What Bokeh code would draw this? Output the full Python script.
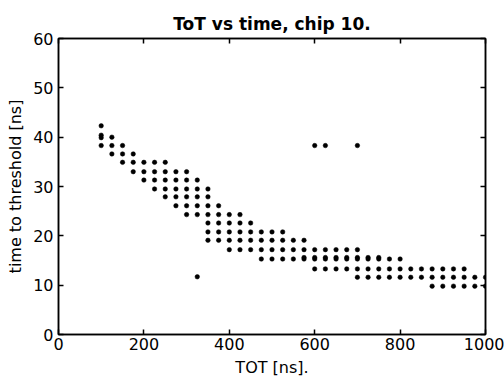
from bokeh.plotting import figure
from bokeh.models import ColumnDataSource, FixedTicker, LinearAxis, Range1d
from bokeh.embed import file_html
from bokeh.resources import INLINE

# Data (TOT in ns, time to threshold in ns)
tot_ns = [
    100,
    100,
    100, 125,
    100, 125, 150,
    125, 150, 175,
    150, 175, 200, 225, 250,
    175, 200, 225, 250, 275, 300,
    200, 225, 250, 275, 300, 325,
    225, 250, 275, 300, 325, 350,
    250, 275, 300, 325, 350,
    275, 300, 325, 350, 375,
    300, 325, 350, 375, 400, 425,
    350, 375, 400, 425, 450,
    350, 375, 400, 425, 450, 475, 500, 525,
    350, 375, 400, 425, 450, 475, 500, 525, 550, 575,
    400, 425, 450, 475, 500, 525, 550, 575, 600, 625, 650, 675, 700,
    475, 500, 525, 550, 575, 600, 625, 650, 675, 700, 725, 750, 775, 800,
    575, 600, 625, 650, 675, 700, 725, 750,
    600, 625, 650, 675, 700, 725, 750, 775, 800, 825, 850, 875, 900, 925, 950,
    700, 725, 750, 775, 800, 825, 850, 875, 900, 925, 950, 975, 1000,
    875, 900, 925, 950, 975, 1000,
    325, 600, 625, 700,
]
ttt_ns = [
    42.3,
    40.4,
    39.9, 40.0,
    38.3, 38.3, 38.3,
    36.6, 36.6, 36.6,
    34.9, 34.9, 34.9, 34.9, 34.9,
    33.0, 33.0, 33.0, 33.0, 33.0, 33.0,
    31.3, 31.3, 31.3, 31.3, 31.3, 31.3,
    29.5, 29.5, 29.5, 29.5, 29.5, 29.5,
    27.9, 27.9, 27.9, 27.9, 27.9,
    26.1, 26.1, 26.1, 26.1, 26.1,
    24.3, 24.3, 24.3, 24.3, 24.3, 24.3,
    22.6, 22.6, 22.6, 22.6, 22.6,
    20.8, 20.8, 20.8, 20.8, 20.8, 20.8, 20.8, 20.8,
    19.1, 19.1, 19.1, 19.1, 19.1, 19.1, 19.1, 19.1, 19.1, 19.1,
    17.2, 17.2, 17.2, 17.2, 17.2, 17.2, 17.2, 17.2, 17.2, 17.2, 17.2, 17.2, 17.2,
    15.3, 15.3, 15.3, 15.3, 15.3, 15.3, 15.3, 15.3, 15.3, 15.3, 15.3, 15.3, 15.3, 15.3,
    15.6, 15.6, 15.6, 15.6, 15.6, 15.6, 15.6, 15.6,
    13.3, 13.3, 13.3, 13.3, 13.3, 13.3, 13.3, 13.3, 13.3, 13.3, 13.3, 13.3, 13.3, 13.3, 13.3,
    11.6, 11.6, 11.6, 11.6, 11.6, 11.6, 11.6, 11.6, 11.6, 11.6, 11.6, 11.6, 11.6,
    9.8, 9.8, 9.8, 9.8, 9.8, 9.8,
    11.7, 38.3, 38.3, 38.3,
]

x_ticks = [0, 200, 400, 600, 800, 1000]
y_ticks = [0, 10, 20, 30, 40, 50, 60]

FONT = "DejaVu Sans"

p = figure(
    width=504, height=383,
    output_backend="svg", toolbar_location=None,
    x_range=Range1d(0, 1000), y_range=Range1d(0, 60),
    min_border_left=58, min_border_right=19,
    min_border_top=38, min_border_bottom=49,
    background_fill_color="white", border_fill_color="white",
    x_axis_label="TOT [ns].", y_axis_label="time to threshold [ns]",
)
p.title.text = "ToT vs time, chip 10."
p.title.align = "center"
p.title.text_font = FONT
p.title.text_font_size = "17px"
p.title.text_font_style = "bold"
p.title.text_color = "black"
p.title.offset = 0

p.grid.visible = False
p.outline_line_color = "black"
p.outline_line_width = 1.5

for ax, ticks in ((p.xaxis[0], x_ticks), (p.yaxis[0], y_ticks)):
    ax.ticker = FixedTicker(ticks=ticks)
    ax.major_tick_in = 5
    ax.major_tick_out = 0
    ax.minor_tick_line_color = None
    ax.axis_line_width = 1.5
    ax.major_tick_line_width = 1.5
    ax.major_label_text_font = FONT
    ax.major_label_text_font_size = "16px"
    ax.major_label_text_color = "black"
    ax.axis_label_text_font = FONT
    ax.axis_label_text_font_size = "16px"
    ax.axis_label_text_font_style = "normal"
    ax.axis_label_text_color = "black"

p.xaxis[0].major_label_standoff = 3
p.xaxis[0].axis_label_standoff = 5
p.yaxis[0].major_label_standoff = 5
p.yaxis[0].axis_label_standoff = 5

for loc, ticks in (("above", x_ticks), ("right", y_ticks)):
    ax = LinearAxis(ticker=FixedTicker(ticks=ticks))
    ax.major_tick_in = 5
    ax.major_tick_out = 0
    ax.minor_tick_line_color = None
    ax.axis_line_width = 1.5
    ax.major_tick_line_width = 1.5
    ax.major_label_overrides = {t: "" for t in ticks}
    ax.major_label_standoff = 0
    ax.major_label_text_font_size = "1px"
    p.add_layout(ax, loc)

src = ColumnDataSource(data=dict(tot=tot_ns, ttt=ttt_ns))
p.scatter("tot", "ttt", source=src, marker="circle", size=4.5,
          fill_color="black", line_color="black", line_width=0.5)

open("out.html", "w").write(file_html(p, INLINE))
